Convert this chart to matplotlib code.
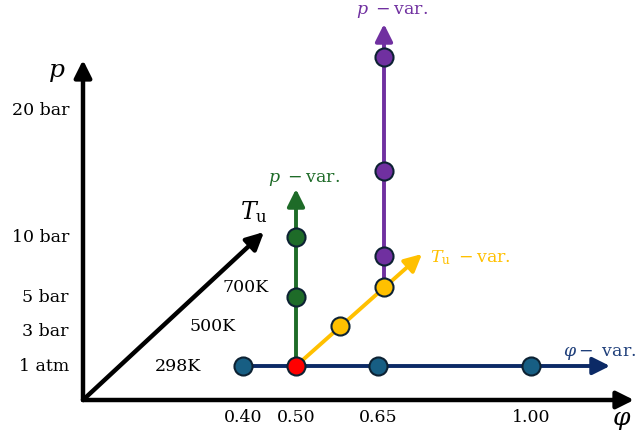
import numpy as np
import matplotlib.pyplot as plt

plt.rcParams['font.family'] = ['DejaVu Serif']
plt.rcParams['mathtext.fontset'] = 'dejavuserif'

# axis ticks of the schematic
phi_ticks = [0.40, 0.50, 0.65, 1.00]
phi_labels = ['0.40', '0.50', '0.65', '1.00']
p_ticks = [1.013, 3, 5, 10, 20]
p_labels = ['1 atm', '3 bar', '5 bar', '10 bar', '20 bar']
T_ticks = [298, 500, 700]
T_labels = ['298K', '500K', '700K']

# base condition
phi0, p0, T0 = 0.50, 1.013, 298

# variations
phi_var = [0.40, 0.65, 1.00]          # p = 1 atm, T = 298K
p_var_298 = [5, 10]                   # phi = 0.5, T = 298K
T_var = [500, 700]                    # phi = 0.5, p = 1 atm
p_var_700 = [3, 10, 20]               # phi = 0.5, T = 700K

# layout of the drawing (pixels)
phi_x = [243, 296, 378, 531]
p_y = [366, 331, 297, 237, 110]
origin = (83, 400)
depth = (88, -79)   # shift from 298K to 700K
shrink = 0.10       # perspective shrink at 700K


def proj(phi, p, T):
    d = (np.asarray(T, float) - T_ticks[0]) / (T_ticks[-1] - T_ticks[0])
    x = np.interp(phi, phi_ticks, phi_x) + d * depth[0]
    y0 = np.interp(p, p_ticks, p_y)
    y = p_y[0] - (p_y[0] - y0) * (1 - shrink * d) + d * depth[1]
    return np.broadcast_arrays(x, y)


c_blue_line = '#0c2a66'
c_blue_pt = '#175e83'
c_green = '#1e6b28'
c_purple = '#7030a0'
c_yellow = '#ffc000'
c_edge = '#0d2233'
fs = 12.5

fig = plt.figure(figsize=(6.39, 4.36), dpi=100)
ax = fig.add_axes([0, 0, 1, 1])
ax.set_xlim(0, 639)
ax.set_ylim(436, 0)
ax.axis('off')


def arrow(start, end, color, lw, ms):
    ax.annotate('', xy=end, xytext=start,
                arrowprops=dict(arrowstyle='-|>', color=color, lw=lw,
                                mutation_scale=ms, shrinkA=0, shrinkB=0))


# main axes
arrow(origin, (634, origin[1]), 'black', 3.2, 26)
arrow(origin, (origin[0], 60), 'black', 3.2, 26)
arrow(origin, (264, 232), 'black', 3.2, 26)

ax.text(622, 420, r'$\varphi$', fontsize=18, ha='center', va='center')
ax.text(57, 72, r'$p$', fontsize=18, ha='center', va='center')
ax.text(254, 212, r'$T_\mathrm{u}$', fontsize=17, ha='center', va='center')

for v, lab in zip(phi_ticks, phi_labels):
    x, _ = proj(v, p0, T0)
    ax.text(float(x), 417, lab, fontsize=fs, ha='center', va='center')
for v, lab in zip(p_ticks, p_labels):
    _, y = proj(phi0, v, T0)
    ax.text(69, float(y), lab, fontsize=fs, ha='right', va='center')
for v, lab in zip(T_ticks, T_labels):
    d = (v - T_ticks[0]) / (T_ticks[-1] - T_ticks[0])
    _, y = proj(phi0, p0, v)
    ax.text(178 + d * 68, float(y), lab, fontsize=fs, ha='center', va='center')

bx, by = (float(v) for v in proj(phi0, p0, T0))

# phi variation
xs, ys = proj(np.array(phi_var), p0, T0)
arrow((bx - 53, by), (610, by), c_blue_line, 2.8, 26)
ax.text(563, 353, r'$\varphi-$ var.', fontsize=fs, color='#1f3f7a',
        ha='left', va='center')

# p variation at 298K
gx, gy = proj(phi0, np.array(p_var_298), T0)
arrow((bx, by), (bx, 189), c_green, 2.8, 26)
ax.text(bx + 8, 179, r'$p\ -$var.', fontsize=fs, color=c_green,
        ha='center', va='center')

# T variation
tx, ty = proj(phi0, p0, np.array(T_var))
arrow((bx, by), (tx[-1] + 38, ty[-1] - 33), c_yellow, 2.8, 26)
ax.text(430, 258, r'$T_\mathrm{u}\ -$var.', fontsize=fs, color=c_yellow,
        ha='left', va='center')

# p variation at 700K
px, py = proj(phi0, np.array(p_var_700), 700)
arrow((tx[-1], ty[-1]), (px[0], 24), c_purple, 2.8, 26)
ax.text(px[0] + 8, 12, r'$p\ -$var.', fontsize=fs, color=c_purple,
        ha='center', va='center')

mk = dict(ms=13, mew=1.5, mec=c_edge, ls='none', marker='o', zorder=5)
ax.plot(xs, ys, mfc=c_blue_pt, **mk)
ax.plot(gx, gy, mfc=c_green, **mk)
ax.plot(px, py, mfc=c_purple, **mk)
ax.plot(tx, ty, mfc=c_yellow, **mk)
ax.plot([bx], [by], mfc='#ff0000', **mk)

fig.savefig('out.png', dpi=100)
